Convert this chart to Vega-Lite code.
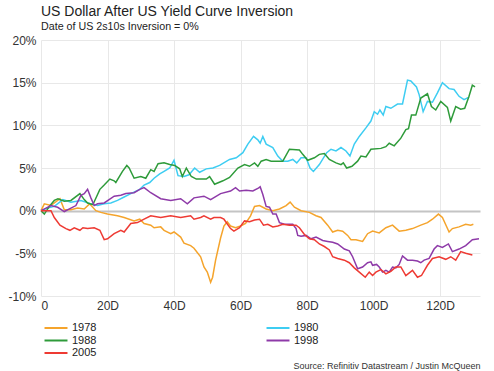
{
"$schema": "https://vega.github.io/schema/vega-lite/v6.json",
"width": 439, "height": 256,
"autosize": "none",
"padding": {"left": 41, "top": 40, "right": 14, "bottom": 75},
"background": "white",
"title": {"text": "US Dollar After US Yield Curve Inversion", "subtitle": "Date of US 2s10s Inversion = 0%", "anchor": "start", "frame": "group", "font": "Liberation Sans", "fontSize": 14, "fontWeight": "normal", "color": "#222222", "subtitleFont": "Liberation Sans", "subtitleFontSize": 10.7, "subtitleColor": "#222222", "offset": 2, "subtitlePadding": 3},
"config": {"view": {"stroke": null}, "font": "Liberation Sans"},
"data": {"values": [
{"s":"1978","d":0,"v":0},{"s":"1978","d":1,"v":0.8},{"s":"1978","d":3,"v":0.6},{"s":"1978","d":5.7,"v":1.4},{"s":"1978","d":7,"v":0.1},{"s":"1978","d":9,"v":0.1},{"s":"1978","d":11,"v":0.3},{"s":"1978","d":13,"v":0.2},{"s":"1978","d":14.6,"v":0.8},{"s":"1978","d":16.5,"v":0},{"s":"1978","d":18,"v":-0.2},{"s":"1978","d":20,"v":-0.4},{"s":"1978","d":23,"v":-0.6},{"s":"1978","d":25,"v":-0.8},{"s":"1978","d":28,"v":-1.2},{"s":"1978","d":29.7,"v":-1.0},{"s":"1978","d":31,"v":-1.5},{"s":"1978","d":33,"v":-1.7},{"s":"1978","d":34,"v":-2.0},{"s":"1978","d":36,"v":-1.9},{"s":"1978","d":37,"v":-2.3},{"s":"1978","d":39,"v":-2.7},{"s":"1978","d":40,"v":-2.5},{"s":"1978","d":42,"v":-3.1},{"s":"1978","d":43,"v":-3.8},{"s":"1978","d":45,"v":-4.1},{"s":"1978","d":46,"v":-4.4},{"s":"1978","d":48,"v":-5.4},{"s":"1978","d":49,"v":-6.6},{"s":"1978","d":50,"v":-7.2},{"s":"1978","d":51,"v":-8.4},{"s":"1978","d":51.6,"v":-7.8},{"s":"1978","d":52.5,"v":-5.8},{"s":"1978","d":54,"v":-3.2},{"s":"1978","d":55,"v":-1.8},{"s":"1978","d":56,"v":-1.3},{"s":"1978","d":57,"v":-1.8},{"s":"1978","d":58.5,"v":-2.0},{"s":"1978","d":60,"v":-1.8},{"s":"1978","d":61.5,"v":-1.5},{"s":"1978","d":63,"v":-0.6},{"s":"1978","d":64.2,"v":0.5},{"s":"1978","d":65.7,"v":0.6},{"s":"1978","d":67.7,"v":0.2},{"s":"1978","d":69.7,"v":0.0},{"s":"1978","d":71.7,"v":0.2},{"s":"1978","d":73.7,"v":0.6},{"s":"1978","d":74.9,"v":1.0},{"s":"1978","d":76.2,"v":0.4},{"s":"1978","d":78.2,"v":0.0},{"s":"1978","d":80.7,"v":-0.2},{"s":"1978","d":82.7,"v":-0.6},{"s":"1978","d":84.2,"v":-0.8},{"s":"1978","d":86.2,"v":-1.7},{"s":"1978","d":87.7,"v":-2.5},{"s":"1978","d":89.2,"v":-2.3},{"s":"1978","d":90.7,"v":-2.4},{"s":"1978","d":92.2,"v":-2.9},{"s":"1978","d":93.2,"v":-3.4},{"s":"1978","d":94.7,"v":-3.4},{"s":"1978","d":96.7,"v":-3.6},{"s":"1978","d":98.2,"v":-2.7},{"s":"1978","d":99.7,"v":-2.4},{"s":"1978","d":101.7,"v":-2.6},{"s":"1978","d":103.7,"v":-2.0},{"s":"1978","d":105.7,"v":-1.7},{"s":"1978","d":107.7,"v":-2.4},{"s":"1978","d":109.7,"v":-2.3},{"s":"1978","d":111.7,"v":-2.1},{"s":"1978","d":114.2,"v":-1.7},{"s":"1978","d":116.2,"v":-1.4},{"s":"1978","d":117.7,"v":-1.0},{"s":"1978","d":119.5,"v":-0.4},{"s":"1978","d":120.7,"v":-0.8},{"s":"1978","d":122.7,"v":-2.5},{"s":"1978","d":123.7,"v":-2.1},{"s":"1978","d":125.7,"v":-1.9},{"s":"1978","d":127.7,"v":-1.6},{"s":"1978","d":129.2,"v":-1.7},{"s":"1978","d":130,"v":-1.6},
{"s":"1980","d":0,"v":0},{"s":"1980","d":2,"v":0.3},{"s":"1980","d":4,"v":0.5},{"s":"1980","d":6.6,"v":1.3},{"s":"1980","d":9,"v":1.0},{"s":"1980","d":12,"v":1.2},{"s":"1980","d":15,"v":0.8},{"s":"1980","d":17,"v":0.6},{"s":"1980","d":19,"v":0.8},{"s":"1980","d":21,"v":0.9},{"s":"1980","d":23,"v":1.2},{"s":"1980","d":25,"v":1.6},{"s":"1980","d":27,"v":2.0},{"s":"1980","d":29.7,"v":2.5},{"s":"1980","d":31,"v":3.0},{"s":"1980","d":32.7,"v":3.3},{"s":"1980","d":34,"v":3.8},{"s":"1980","d":35.7,"v":4.3},{"s":"1980","d":37,"v":4.6},{"s":"1980","d":38.7,"v":5.0},{"s":"1980","d":40,"v":5.9},{"s":"1980","d":41.2,"v":4.1},{"s":"1980","d":43,"v":4.0},{"s":"1980","d":44.5,"v":4.2},{"s":"1980","d":46.2,"v":5.0},{"s":"1980","d":47.7,"v":4.5},{"s":"1980","d":49.7,"v":4.9},{"s":"1980","d":51.7,"v":5.0},{"s":"1980","d":53.7,"v":5.3},{"s":"1980","d":56.7,"v":6.0},{"s":"1980","d":58.7,"v":6.2},{"s":"1980","d":60.7,"v":6.8},{"s":"1980","d":62.2,"v":7.8},{"s":"1980","d":63.9,"v":8.7},{"s":"1980","d":65.2,"v":8.3},{"s":"1980","d":65.9,"v":7.9},{"s":"1980","d":66.7,"v":8.7},{"s":"1980","d":67.7,"v":7.8},{"s":"1980","d":69.7,"v":7.4},{"s":"1980","d":71.2,"v":6.4},{"s":"1980","d":72.7,"v":5.8},{"s":"1980","d":74.2,"v":5.8},{"s":"1980","d":75.7,"v":6.0},{"s":"1980","d":76.9,"v":5.6},{"s":"1980","d":78.2,"v":6.2},{"s":"1980","d":79.7,"v":6.2},{"s":"1980","d":80.9,"v":5.0},{"s":"1980","d":81.9,"v":4.6},{"s":"1980","d":83.7,"v":5.4},{"s":"1980","d":85.9,"v":6.8},{"s":"1980","d":87.2,"v":7.2},{"s":"1980","d":88.7,"v":7.0},{"s":"1980","d":90.2,"v":7.4},{"s":"1980","d":91.7,"v":7.0},{"s":"1980","d":92.9,"v":6.4},{"s":"1980","d":94.2,"v":7.8},{"s":"1980","d":95.7,"v":8.7},{"s":"1980","d":97.7,"v":9.7},{"s":"1980","d":99.2,"v":10.5},{"s":"1980","d":100.2,"v":11.6},{"s":"1980","d":101.2,"v":11.3},{"s":"1980","d":101.9,"v":11.8},{"s":"1980","d":102.9,"v":11.2},{"s":"1980","d":103.7,"v":12.2},{"s":"1980","d":105.2,"v":12.0},{"s":"1980","d":107.2,"v":12.5},{"s":"1980","d":108.7,"v":12.5},{"s":"1980","d":110.2,"v":15.3},{"s":"1980","d":111.2,"v":15.2},{"s":"1980","d":112.9,"v":14.5},{"s":"1980","d":113.7,"v":13.6},{"s":"1980","d":114.9,"v":11.6},{"s":"1980","d":116.2,"v":12.8},{"s":"1980","d":117.7,"v":12.7},{"s":"1980","d":119.2,"v":13.8},{"s":"1980","d":120.7,"v":15.0},{"s":"1980","d":122.7,"v":14.3},{"s":"1980","d":124.2,"v":14.2},{"s":"1980","d":125.7,"v":13.4},{"s":"1980","d":127.2,"v":13.0},{"s":"1980","d":128.7,"v":13.3},
{"s":"1988","d":0,"v":0},{"s":"1988","d":1,"v":-0.4},{"s":"1988","d":2.5,"v":0.5},{"s":"1988","d":4,"v":1.2},{"s":"1988","d":5.1,"v":1.4},{"s":"1988","d":7,"v":1.1},{"s":"1988","d":9,"v":1.2},{"s":"1988","d":11.7,"v":2.0},{"s":"1988","d":13,"v":1.3},{"s":"1988","d":14,"v":0.9},{"s":"1988","d":15.6,"v":0.7},{"s":"1988","d":17.7,"v":2.5},{"s":"1988","d":19,"v":3.0},{"s":"1988","d":20.7,"v":3.7},{"s":"1988","d":22,"v":3.5},{"s":"1988","d":22.5,"v":3.3},{"s":"1988","d":24.5,"v":4.6},{"s":"1988","d":25.8,"v":5.3},{"s":"1988","d":26.5,"v":5.0},{"s":"1988","d":28,"v":3.8},{"s":"1988","d":30,"v":4.0},{"s":"1988","d":31.5,"v":3.8},{"s":"1988","d":33,"v":4.8},{"s":"1988","d":34,"v":4.6},{"s":"1988","d":35.2,"v":5.5},{"s":"1988","d":37,"v":5.6},{"s":"1988","d":38.7,"v":5.4},{"s":"1988","d":40.2,"v":5.3},{"s":"1988","d":41.7,"v":4.9},{"s":"1988","d":42.5,"v":4.0},{"s":"1988","d":43.7,"v":5.0},{"s":"1988","d":45.2,"v":4.0},{"s":"1988","d":46.7,"v":3.7},{"s":"1988","d":49.7,"v":3.7},{"s":"1988","d":50.7,"v":4.0},{"s":"1988","d":52.2,"v":3.1},{"s":"1988","d":54.7,"v":3.5},{"s":"1988","d":56.7,"v":3.9},{"s":"1988","d":59.2,"v":5.0},{"s":"1988","d":61.2,"v":5.4},{"s":"1988","d":62.7,"v":5.2},{"s":"1988","d":64.2,"v":5.6},{"s":"1988","d":65.2,"v":5.2},{"s":"1988","d":66.2,"v":5.8},{"s":"1988","d":67.7,"v":6.0},{"s":"1988","d":69.2,"v":5.8},{"s":"1988","d":71.2,"v":5.8},{"s":"1988","d":72.7,"v":5.8},{"s":"1988","d":74.7,"v":7.2},{"s":"1988","d":77.7,"v":7.1},{"s":"1988","d":78.7,"v":6.6},{"s":"1988","d":80.2,"v":5.9},{"s":"1988","d":82.2,"v":6.2},{"s":"1988","d":83.7,"v":6.6},{"s":"1988","d":85.2,"v":6.7},{"s":"1988","d":86.7,"v":6.0},{"s":"1988","d":88.7,"v":5.6},{"s":"1988","d":90.2,"v":5.4},{"s":"1988","d":90.9,"v":5.6},{"s":"1988","d":91.9,"v":5.0},{"s":"1988","d":93.5,"v":5.2},{"s":"1988","d":95.2,"v":5.8},{"s":"1988","d":96.2,"v":6.4},{"s":"1988","d":97.7,"v":6.3},{"s":"1988","d":99.2,"v":7.2},{"s":"1988","d":102.2,"v":7.3},{"s":"1988","d":103.7,"v":7.5},{"s":"1988","d":104.7,"v":7.9},{"s":"1988","d":106.2,"v":7.6},{"s":"1988","d":108.2,"v":8.5},{"s":"1988","d":109.7,"v":9.5},{"s":"1988","d":110.5,"v":9.6},{"s":"1988","d":111.4,"v":11.2},{"s":"1988","d":112.7,"v":11.2},{"s":"1988","d":114.2,"v":13.2},{"s":"1988","d":116.2,"v":13.7},{"s":"1988","d":117.4,"v":12.2},{"s":"1988","d":118.7,"v":11.8},{"s":"1988","d":120.2,"v":12.8},{"s":"1988","d":122.2,"v":12.1},{"s":"1988","d":123.2,"v":10.5},{"s":"1988","d":124.7,"v":12.2},{"s":"1988","d":126.2,"v":11.9},{"s":"1988","d":127.4,"v":12.0},{"s":"1988","d":128.7,"v":13.4},{"s":"1988","d":129.7,"v":14.7},{"s":"1988","d":130.5,"v":14.5},
{"s":"1998","d":0,"v":0},{"s":"1998","d":1.5,"v":0.3},{"s":"1998","d":3,"v":0.6},{"s":"1998","d":5,"v":0.4},{"s":"1998","d":7,"v":-0.1},{"s":"1998","d":9,"v":0.3},{"s":"1998","d":10.5,"v":0.6},{"s":"1998","d":12,"v":1.8},{"s":"1998","d":13,"v":2.0},{"s":"1998","d":14,"v":2.5},{"s":"1998","d":15,"v":1.5},{"s":"1998","d":16,"v":0.6},{"s":"1998","d":17,"v":0.8},{"s":"1998","d":19,"v":0.9},{"s":"1998","d":22,"v":1.7},{"s":"1998","d":24,"v":1.8},{"s":"1998","d":25.5,"v":2.0},{"s":"1998","d":28,"v":2.1},{"s":"1998","d":29.7,"v":2.5},{"s":"1998","d":31,"v":2.7},{"s":"1998","d":33,"v":2.1},{"s":"1998","d":36,"v":1.4},{"s":"1998","d":39,"v":1.2},{"s":"1998","d":42,"v":1.4},{"s":"1998","d":44,"v":0.8},{"s":"1998","d":46,"v":1.5},{"s":"1998","d":49,"v":1.7},{"s":"1998","d":51,"v":1.3},{"s":"1998","d":54,"v":2.0},{"s":"1998","d":57,"v":2.3},{"s":"1998","d":58.5,"v":2.7},{"s":"1998","d":59.7,"v":2.3},{"s":"1998","d":61.7,"v":2.4},{"s":"1998","d":63.7,"v":2.3},{"s":"1998","d":65.2,"v":2.6},{"s":"1998","d":65.9,"v":2.8},{"s":"1998","d":66.7,"v":1.9},{"s":"1998","d":67.7,"v":0.5},{"s":"1998","d":68.7,"v":0.4},{"s":"1998","d":69.7,"v":-0.4},{"s":"1998","d":70.7,"v":-0.4},{"s":"1998","d":71.7,"v":-1.4},{"s":"1998","d":73.2,"v":-1.6},{"s":"1998","d":75.7,"v":-1.6},{"s":"1998","d":76.7,"v":-2.1},{"s":"1998","d":77.2,"v":-2.9},{"s":"1998","d":78.2,"v":-3.0},{"s":"1998","d":79.7,"v":-2.9},{"s":"1998","d":81.2,"v":-3.3},{"s":"1998","d":82.7,"v":-3.1},{"s":"1998","d":84.7,"v":-3.5},{"s":"1998","d":86.2,"v":-3.6},{"s":"1998","d":87.7,"v":-3.7},{"s":"1998","d":89.2,"v":-3.9},{"s":"1998","d":91.2,"v":-4.5},{"s":"1998","d":92.7,"v":-4.7},{"s":"1998","d":93.7,"v":-5.4},{"s":"1998","d":95.2,"v":-6.8},{"s":"1998","d":96.7,"v":-6.6},{"s":"1998","d":98.2,"v":-6.1},{"s":"1998","d":99.2,"v":-6.0},{"s":"1998","d":99.7,"v":-6.4},{"s":"1998","d":100.9,"v":-6.3},{"s":"1998","d":101.7,"v":-6.6},{"s":"1998","d":102.7,"v":-7.2},{"s":"1998","d":103.7,"v":-7.0},{"s":"1998","d":104.7,"v":-7.2},{"s":"1998","d":105.7,"v":-6.6},{"s":"1998","d":106.7,"v":-6.7},{"s":"1998","d":107.7,"v":-6.3},{"s":"1998","d":108.7,"v":-5.3},{"s":"1998","d":110.2,"v":-5.8},{"s":"1998","d":111.7,"v":-5.8},{"s":"1998","d":113.2,"v":-5.9},{"s":"1998","d":114.2,"v":-6.1},{"s":"1998","d":115.2,"v":-5.8},{"s":"1998","d":116.7,"v":-5.6},{"s":"1998","d":118.2,"v":-4.5},{"s":"1998","d":119.2,"v":-4.1},{"s":"1998","d":120.7,"v":-4.3},{"s":"1998","d":122.5,"v":-3.9},{"s":"1998","d":123.7,"v":-4.8},{"s":"1998","d":125.7,"v":-4.5},{"s":"1998","d":127.7,"v":-4.1},{"s":"1998","d":129.7,"v":-3.4},{"s":"1998","d":131.7,"v":-3.3},
{"s":"2005","d":0,"v":0},{"s":"2005","d":3,"v":0},{"s":"2005","d":4,"v":-0.8},{"s":"2005","d":5.7,"v":-1.7},{"s":"2005","d":7.5,"v":-2.1},{"s":"2005","d":8.7,"v":-2.3},{"s":"2005","d":10,"v":-2.0},{"s":"2005","d":11.7,"v":-2.3},{"s":"2005","d":12.6,"v":-2.0},{"s":"2005","d":14,"v":-2.1},{"s":"2005","d":16,"v":-2.0},{"s":"2005","d":17.7,"v":-2.3},{"s":"2005","d":19,"v":-3.4},{"s":"2005","d":20,"v":-3.3},{"s":"2005","d":22,"v":-2.7},{"s":"2005","d":24,"v":-2.3},{"s":"2005","d":25,"v":-2.5},{"s":"2005","d":27,"v":-1.5},{"s":"2005","d":29,"v":-1.4},{"s":"2005","d":31,"v":-1.0},{"s":"2005","d":33,"v":-0.6},{"s":"2005","d":36,"v":-0.8},{"s":"2005","d":39,"v":-0.6},{"s":"2005","d":42,"v":-0.8},{"s":"2005","d":45,"v":-0.6},{"s":"2005","d":46,"v":-1.0},{"s":"2005","d":48,"v":-0.8},{"s":"2005","d":49,"v":-0.6},{"s":"2005","d":51,"v":-1.0},{"s":"2005","d":52,"v":-0.8},{"s":"2005","d":54,"v":-0.8},{"s":"2005","d":55,"v":-1.0},{"s":"2005","d":57,"v":-2.1},{"s":"2005","d":58,"v":-2.4},{"s":"2005","d":59.7,"v":-2.0},{"s":"2005","d":61.2,"v":-1.2},{"s":"2005","d":62.7,"v":-1.3},{"s":"2005","d":64.2,"v":-1.1},{"s":"2005","d":65.7,"v":-1.0},{"s":"2005","d":66.9,"v":-1.7},{"s":"2005","d":68.2,"v":-1.6},{"s":"2005","d":69.7,"v":-1.9},{"s":"2005","d":71.2,"v":-1.8},{"s":"2005","d":72.7,"v":-1.6},{"s":"2005","d":74.7,"v":-1.7},{"s":"2005","d":76.7,"v":-1.7},{"s":"2005","d":77.7,"v":-2.0},{"s":"2005","d":79.2,"v":-2.8},{"s":"2005","d":80.7,"v":-3.3},{"s":"2005","d":82.2,"v":-3.4},{"s":"2005","d":83.7,"v":-3.9},{"s":"2005","d":85.2,"v":-4.2},{"s":"2005","d":86.7,"v":-4.6},{"s":"2005","d":87.7,"v":-5.4},{"s":"2005","d":89.2,"v":-5.6},{"s":"2005","d":91.2,"v":-5.8},{"s":"2005","d":92.7,"v":-6.1},{"s":"2005","d":94.2,"v":-6.7},{"s":"2005","d":95.7,"v":-7.2},{"s":"2005","d":97.5,"v":-7.8},{"s":"2005","d":98.7,"v":-7.2},{"s":"2005","d":99.7,"v":-7.6},{"s":"2005","d":100.7,"v":-7.2},{"s":"2005","d":102.2,"v":-6.9},{"s":"2005","d":103.7,"v":-7.4},{"s":"2005","d":105.2,"v":-7.1},{"s":"2005","d":106.7,"v":-6.6},{"s":"2005","d":108.2,"v":-6.6},{"s":"2005","d":109.7,"v":-7.6},{"s":"2005","d":111.7,"v":-7.0},{"s":"2005","d":113.2,"v":-7.8},{"s":"2005","d":114.4,"v":-7.6},{"s":"2005","d":116.2,"v":-6.4},{"s":"2005","d":117.7,"v":-5.6},{"s":"2005","d":119.7,"v":-5.4},{"s":"2005","d":121.7,"v":-5.7},{"s":"2005","d":123.2,"v":-5.4},{"s":"2005","d":124.7,"v":-5.8},{"s":"2005","d":126.2,"v":-4.8},{"s":"2005","d":127.7,"v":-5.0},{"s":"2005","d":129.7,"v":-5.2}
]},
"mark": {"type": "line", "strokeWidth": 1.5},
"encoding": {
"x": {"field": "d", "type": "quantitative", "scale": {"domain": [0, 132], "nice": false, "zero": false},
 "axis": {"values": [0,20,40,60,80,100,120], "labelExpr": "datum.value == 0 ? '0' : datum.value + 'D'", "domain": false, "ticks": false, "grid": true, "gridColor": "#e8e8e8", "labelFontSize": 12, "labelColor": "#333333", "labelPadding": 4, "labelFont": "Liberation Sans",
 "title": "Source: Refinitiv Datastream / Justin McQueen", "titleAnchor": "end", "titleFontSize": 9, "titleFontWeight": "normal", "titleColor": "#333333", "titleFont": "Liberation Sans", "titlePadding": 50}},
"y": {"field": "v", "type": "quantitative", "scale": {"domain": [-10, 20], "nice": false},
 "axis": {"values": [-10,-5,0,5,10,15,20], "labelExpr": "datum.value + '%'", "domain": false, "ticks": false,
 "gridColor": {"condition": {"test": "datum.value === 0", "value": "#c4c4c4"}, "value": "#e8e8e8"},
 "gridWidth": {"condition": {"test": "datum.value === 0", "value": 2}, "value": 1},
 "labelFontSize": 12, "labelColor": "#333333", "labelPadding": 5, "labelFont": "Liberation Sans", "title": null}},
"color": {"field": "s", "type": "nominal",
 "scale": {"domain": ["1978","1988","2005","1980","1998"], "range": ["#F5A42C","#2E9B3A","#EE3A33","#3ECDF2","#8E3AA8"]},
 "legend": {"orient": "none", "legendX": 8, "legendY": 281, "direction": "vertical", "columns": 2, "title": null, "symbolType": "M-2,0L2,0", "symbolSize": 132, "symbolStrokeWidth": 2, "labelFontSize": 11, "labelFont": "Liberation Sans", "labelColor": "#222222", "labelOffset": 9, "columnPadding": 165, "rowPadding": 0.5}}
}
}
